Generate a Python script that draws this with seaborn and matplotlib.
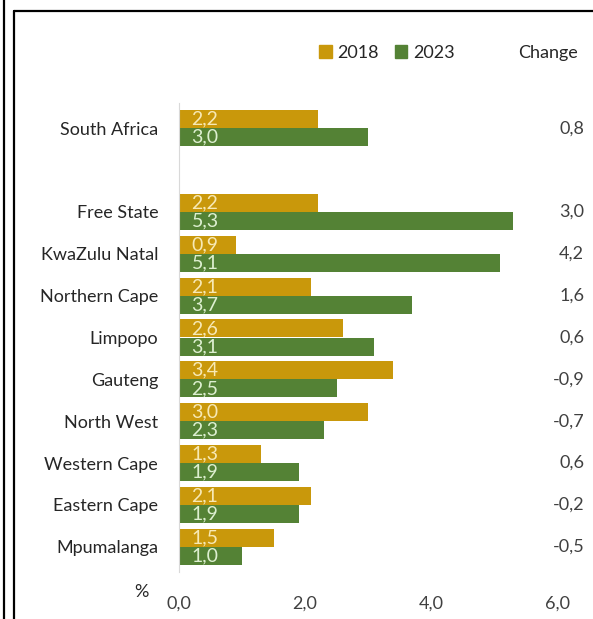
import matplotlib
matplotlib.use("Agg")
import matplotlib.pyplot as plt
from matplotlib.lines import Line2D
import seaborn as sns
import pandas as pd

regions = ["South Africa", "Free State", "KwaZulu Natal", "Northern Cape", "Limpopo",
           "Gauteng", "North West", "Western Cape", "Eastern Cape", "Mpumalanga"]
values_2018 = [2.2, 2.2, 0.9, 2.1, 2.6, 3.4, 3.0, 1.3, 2.1, 1.5]
values_2023 = [3.0, 5.3, 5.1, 3.7, 3.1, 2.5, 2.3, 1.9, 1.9, 1.0]
change = [0.8, 3.0, 4.2, 1.6, 0.6, -0.9, -0.7, 0.6, -0.2, -0.5]
years = ["2018", "2023"]
x_ticks = [0, 2, 4, 6]

gold = "#C9980B"
green = "#548235"

sns.set_theme(style="white")
plt.rcParams["font.family"] = ["Lato", "DejaVu Sans"]

df = pd.DataFrame({
    "region": regions * 2,
    "year": [years[0]] * len(regions) + [years[1]] * len(regions),
    "value": values_2018 + values_2023,
})

# blank slot separates the national figure from the provinces
order = [regions[0], " "] + regions[1:]

fig = plt.figure(figsize=(5.93, 6.19), dpi=100)
ax = fig.add_axes([179 / 593, 47 / 619, 397 / 593, 469 / 619])

sns.barplot(data=df, x="value", y="region", hue="year", order=order,
            hue_order=years, palette=[gold, green], orient="h",
            width=0.86, gap=0, saturation=1, errorbar=None, legend=False,
            linewidth=0, ax=ax)

ax.set_xlim(0, 6.3)
ax.set_ylim(10.6, -0.6)
ax.set_xlabel("")
ax.set_ylabel("")

for s in ["top", "right", "bottom"]:
    ax.spines[s].set_visible(False)
ax.spines["left"].set_color("#d9d9d9")
ax.spines["left"].set_linewidth(0.8)

fs = 13
ax.set_xticks(x_ticks)
ax.set_xticklabels([f"{t:.1f}".replace(".", ",") for t in x_ticks],
                   fontsize=fs, color="#404040")
ax.tick_params(axis="x", length=0, pad=17)
ax.tick_params(axis="y", length=0, pad=15, labelsize=fs, labelcolor="#262626")

# value labels inside the bars and the change column
positions = [0] + list(range(2, 2 + len(regions) - 1))
off = 0.86 / 4
for pos, a, b, c in zip(positions, values_2018, values_2023, change):
    ax.text(0.2, pos - off, f"{a:.1f}".replace(".", ","), va="center", ha="left",
            fontsize=14, color="#F7E9B5")
    ax.text(0.2, pos + off, f"{b:.1f}".replace(".", ","), va="center", ha="left",
            fontsize=14, color="#DDEFD0")
    ax.text(6.43, pos, f"{c:.1f}".replace(".", ","), va="center", ha="right",
            fontsize=fs, color="#404040", clip_on=False)

# legend and column header
handles = [plt.Rectangle((0, 0), 1, 1, color=gold), plt.Rectangle((0, 0), 1, 1, color=green)]
fig.legend(handles, years, loc="center left", bbox_to_anchor=(319 / 593, 1 - 53 / 619),
           ncol=2, frameon=False, fontsize=fs, handlelength=0.7, handleheight=0.7,
           handletextpad=0.3, columnspacing=0.9, borderaxespad=0, borderpad=0,
           labelcolor="#262626")
fig.text(518 / 593, 1 - 53 / 619, "Change", fontsize=fs, color="#262626",
         ha="left", va="center")
fig.text(149 / 593, 1 - 592 / 619, "%", fontsize=fs, color="#262626",
         ha="right", va="center")

# frame lines
fig.add_artist(Line2D([4 / 593, 4 / 593], [0, 1], color="black", lw=1.6))
fig.add_artist(Line2D([13.5 / 593, 13.5 / 593], [0, 1 - 11 / 619], color="black", lw=1.6))
fig.add_artist(Line2D([13.5 / 593, 1], [1 - 11 / 619, 1 - 11 / 619], color="black", lw=1.6))

fig.savefig("out.png", dpi=100)
